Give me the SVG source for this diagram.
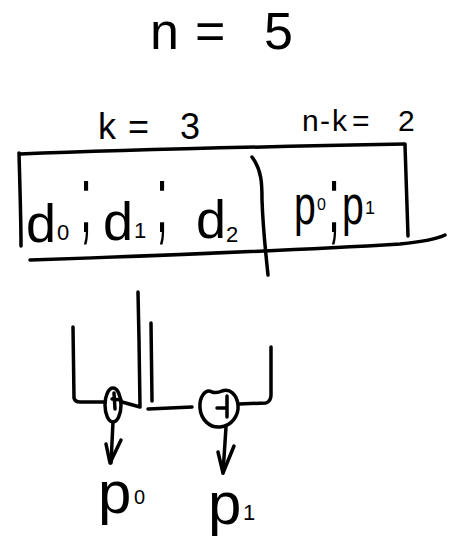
<svg xmlns="http://www.w3.org/2000/svg" width="456" height="542" viewBox="0 0 456 542">
<style>
.s{fill:none;stroke:#000;stroke-width:3.5;stroke-linecap:round;stroke-linejoin:round}
.t{font-family:"Liberation Sans","DejaVu Sans",sans-serif;fill:#000}
</style>
<rect width="456" height="542" fill="#fff"/>
<g id="title"><text class="t" font-size="52" x="150 195 240 264" y="49">n= 5</text></g>
<g id="label-k"><text class="t" font-size="36" x="98 118 128 160 180" y="139">k = 3</text></g>
<g id="label-nk"><text class="t" font-size="30" x="302 320 332 352 398" y="131">n-k=2</text></g>
<g id="codeword">
<path class="s" d="M20,154 C120,150 300,146 405,144"/>
<path class="s" d="M19,153 C20,190 21,220 21,246"/>
<path class="s" d="M405,145 C406,180 407,210 408,236"/>
<path class="s" d="M30,260 C150,256 300,250 400,244 C420,242 435,240 445,235"/>
<path class="s" d="M252,157 C262,170 262,185 262,200 C263,230 266,255 268,275"/>
<text class="t" font-size="54" x="26" y="242">d</text>
<text class="t" font-size="22" x="57" y="240">0</text>
<text class="t" font-size="48" transform="translate(80,232) scale(0.9,2)">;</text>
<text class="t" font-size="54" x="103" y="240">d</text>
<text class="t" font-size="22" x="134" y="238">1</text>
<text class="t" font-size="48" transform="translate(156,232) scale(0.9,2)">;</text>
<text class="t" font-size="54" x="196" y="238">d</text>
<text class="t" font-size="22" x="226" y="242">2</text>
<text class="t" font-size="56" transform="translate(294,224) scale(0.7,1)">p</text>
<text class="t" font-size="16" x="317" y="210">0</text>
<text class="t" font-size="48" transform="translate(328,232) scale(0.9,2)">;</text>
<text class="t" font-size="56" transform="translate(342,224) scale(0.7,1)">p</text>
<text class="t" font-size="18" x="365" y="214">1</text>
</g>
<g id="xor1">
<ellipse class="s" cx="113" cy="405" rx="8" ry="17"/>
<path class="s" d="M114,393 L115,409 M112,399 L121,400"/>
</g>
<g id="xor2">
<path class="s" d="M212,392 C205,388 199,398 200,408 C201,420 210,428 220,427 C232,426 239,415 238,405 C237,395 230,388 222,391 C218,393 215,393 212,392 Z"/>
<path class="s" d="M227,396 L227,417 M217,408 L227,408"/>
</g>
<g id="connectors">
<path class="s" d="M73,327 L74,398 Q75,402 80,402 L105,402"/>
<path class="s" d="M122,402 L140,407 L139,340 L138,292"/>
<path class="s" d="M151,323 L152,401"/>
<path class="s" d="M148,409 L192,407"/>
<path class="s" d="M239,404 L266,403 Q271,401 271,395 L271,347"/>
<path class="s" d="M113,422 L111,463"/>
<path class="s" d="M106,444 L110,463 L121,440"/>
<path class="s" d="M226,427 L223,473"/>
<path class="s" d="M218,452 L223,473 L234,446"/>
</g>
<g id="label-p0">
<text class="t" font-size="60" x="98" y="513">p</text>
<text class="t" font-size="20" x="134" y="504">0</text>
</g>
<g id="label-p1">
<text class="t" font-size="60" x="208" y="524">p</text>
<text class="t" font-size="22" x="243" y="520">1</text>
</g>
</svg>
